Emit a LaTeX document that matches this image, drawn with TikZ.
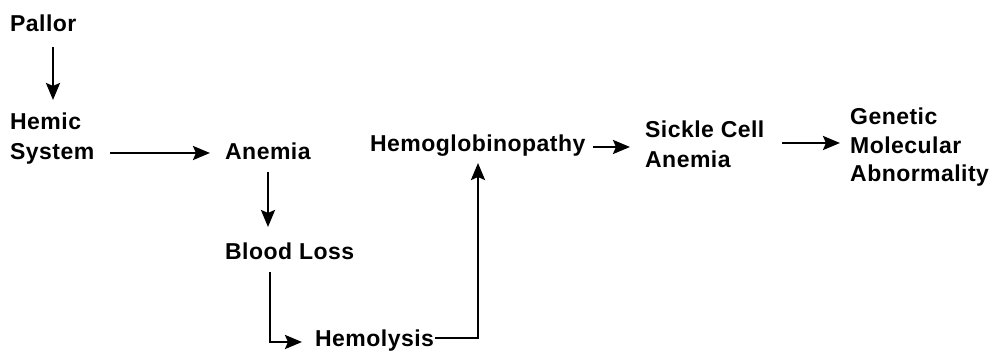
\documentclass[tikz,border=0pt]{standalone}
\usepackage{fontspec}
\setmainfont{Liberation Sans}[LetterSpace=2]
\usetikzlibrary{arrows.meta}
\tikzset{
  lbl/.style={anchor=base west, inner sep=0pt, align=left, font=\bfseries\fontsize{23}{30}\selectfont},
  arr/.style={line width=2.6pt, -{Stealth[length=17pt,width=14pt,inset=3pt]}}
}
\begin{document}
\begin{tikzpicture}[x=1pt,y=-1pt]
\useasboundingbox (0,0) rectangle (1002,352);
\node[lbl] (pallor) at (10,32) {Pallor};
\node[lbl] (hemic) at (10,160) {Hemic\\System};
\node[lbl] (anemia) at (225,160) {Anemia};
\node[lbl] (blood) at (225,260) {Blood Loss};
\node[lbl] (hemolysis) at (315,347) {Hemolysis};
\node[lbl] (hemo) at (370,152) {Hemoglobinopathy};
\node[lbl] (sickle) at (645,168) {Sickle Cell\\Anemia};
\node[lbl, font=\bfseries\fontsize{23}{28.5}\selectfont] (genetic) at (850,182) {Genetic\\Molecular\\Abnormality};
% connectors
\draw[arr] ([xshift=43pt,yshift=-15pt]pallor.base west) -- ([xshift=43pt,yshift=60pt]hemic.base west);
\draw[arr] ([xshift=100pt,yshift=7pt]hemic.base west) -- ([xshift=-15pt,yshift=7pt]anemia.base west);
\draw[arr] ([xshift=43pt,yshift=-12pt]anemia.base west) -- ([xshift=43pt,yshift=33pt]blood.base west);
\draw[arr] ([xshift=45pt,yshift=-12pt]blood.base west) |- ([xshift=-13pt,yshift=5pt]hemolysis.base west);
\draw[arr] ([xshift=120pt,yshift=9pt]hemolysis.base west) -| ([xshift=108pt,yshift=-11pt]hemo.base west);
\draw[arr] ([xshift=223pt,yshift=5pt]hemo.base west) -- ([xshift=-15pt,yshift=21pt]sickle.base west);
\draw[arr] ([xshift=137pt,yshift=25pt]sickle.base west) -- ([xshift=-10pt,yshift=39pt]genetic.base west);
\end{tikzpicture}
\end{document}
